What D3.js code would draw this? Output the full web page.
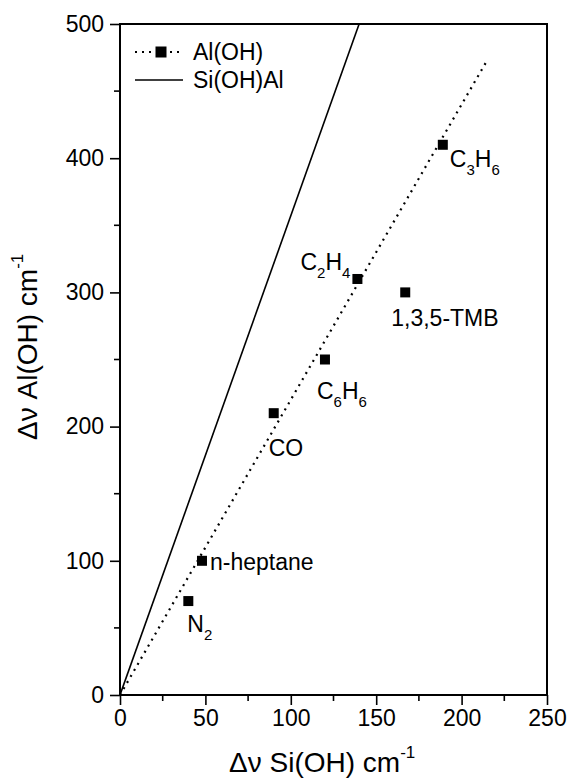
<!DOCTYPE html>
<html>
<head>
<meta charset="utf-8">
<script src="https://cdn.jsdelivr.net/npm/d3@7"></script>
<style>
  html, body { margin: 0; padding: 0; background: #fff; }
  svg { display: block; font-family: "Liberation Sans", Arial, sans-serif; }
</style>
</head>
<body>
<svg id="chart" width="568" height="778"></svg>
<script>
// Adsorbate-induced shifts: Si(OH) vs Al(OH) stretching bands
const molecules = ["N2", "n-heptane", "CO", "C6H6", "C2H4", "1,3,5-TMB", "C3H6"];
const shiftSiOH = [40, 48, 90, 120, 139, 167, 189];
const shiftAlOH = [70, 100, 210, 250, 310, 300, 410];

// Label text pieces: [text, isSubscript]
const labelParts = [
  [["N", 0], ["2", 1]],
  [["n-heptane", 0]],
  [["CO", 0]],
  [["C", 0], ["6", 1], ["H", 0], ["6", 1]],
  [["C", 0], ["2", 1], ["H", 0], ["4", 1]],
  [["1,3,5-TMB", 0]],
  [["C", 0], ["3", 1], ["H", 0], ["6", 1]]
];

// Reference lines (endpoints in data units)
const fitAlOH = [[0, 0], [215, 473]];
const lineSiOHAl = [[0, 0], [140, 500]];

const xTicks = [0, 50, 100, 150, 200, 250];
const yTicks = [0, 100, 200, 300, 400, 500];
const xMinor = [25, 75, 125, 175, 225];
const yMinor = [50, 150, 250, 350, 450];

// Label placement relative to each marker: [dx, dy, anchor]
const labelPlace = [
  [-1, 31, "start"],
  [8, 9, "start"],
  [-5, 43, "start"],
  [-8, 39, "start"],
  [-7, -9, "end"],
  [-14, 34, "start"],
  [7, 22, "start"]
];

const svg = d3.select("#chart");
const L = 120, R = 547, T = 24, B = 695;

const x = d3.scaleLinear().domain([0, 250]).range([L, R]);
const y = d3.scaleLinear().domain([0, 500]).range([B, T]);

svg.append("defs").append("clipPath").attr("id", "plotClip")
  .append("rect").attr("x", L).attr("y", T).attr("width", R - L).attr("height", B - T);

// Axes with major ticks
const xAxis = svg.append("g").attr("transform", `translate(0,${B})`)
  .call(d3.axisBottom(x).tickValues(xTicks).tickSize(10).tickSizeOuter(0).tickPadding(4).tickFormat(d3.format("d")));
const yAxis = svg.append("g").attr("transform", `translate(${L},0)`)
  .call(d3.axisLeft(y).tickValues(yTicks).tickSize(10).tickSizeOuter(0).tickPadding(6).tickFormat(d3.format("d")));

[xAxis, yAxis].forEach(g => {
  g.select(".domain").remove();
  g.selectAll(".tick line").attr("stroke", "#000").attr("stroke-width", 1.6);
  g.selectAll(".tick text").attr("fill", "#000").attr("font-size", 23)
    .attr("font-family", "'Liberation Sans', Arial, sans-serif");
});
xAxis.selectAll(".tick text").attr("dy", "0.72em").attr("y", 14);

// Minor ticks
svg.append("g").selectAll("line").data(xMinor).join("line")
  .attr("x1", d => x(d)).attr("x2", d => x(d)).attr("y1", B).attr("y2", B + 6)
  .attr("stroke", "#000").attr("stroke-width", 1.6);
svg.append("g").selectAll("line").data(yMinor).join("line")
  .attr("y1", d => y(d)).attr("y2", d => y(d)).attr("x1", L).attr("x2", L - 6)
  .attr("stroke", "#000").attr("stroke-width", 1.6);

// Plot frame
svg.append("rect").attr("x", L).attr("y", T).attr("width", R - L).attr("height", B - T)
  .attr("fill", "none").attr("stroke", "#000").attr("stroke-width", 2);

const line = d3.line().x(d => x(d[0])).y(d => y(d[1]));
const plot = svg.append("g").attr("clip-path", "url(#plotClip)");

plot.append("path").datum(lineSiOHAl).attr("d", line)
  .attr("fill", "none").attr("stroke", "#000").attr("stroke-width", 1.6);
plot.append("path").datum(fitAlOH).attr("d", line)
  .attr("fill", "none").attr("stroke", "#000").attr("stroke-width", 2.2)
  .attr("stroke-dasharray", "2,5");

// Square markers
const ms = 10;
svg.append("g").selectAll("rect").data(shiftSiOH).join("rect")
  .attr("x", (d, i) => x(d) - ms / 2).attr("y", (d, i) => y(shiftAlOH[i]) - ms / 2)
  .attr("width", ms).attr("height", ms).attr("fill", "#000");

// Molecule labels with subscripts
const labels = svg.append("g").attr("font-size", 23).attr("fill", "#000");
molecules.forEach((m, i) => {
  const [dx, dy, anchor] = labelPlace[i];
  const t = labels.append("text")
    .attr("x", x(shiftSiOH[i]) + dx).attr("y", y(shiftAlOH[i]) + dy)
    .attr("text-anchor", anchor);
  let sub = false;
  labelParts[i].forEach(([s, isSub]) => {
    const ts = t.append("tspan").text(s);
    if (isSub && !sub) { ts.attr("font-size", 15).attr("dy", 8); sub = true; }
    else if (!isSub && sub) { ts.attr("dy", -8); sub = false; }
    else if (isSub) ts.attr("font-size", 15);
  });
});

// Legend
const leg = svg.append("g");
leg.append("line").attr("x1", 135).attr("x2", 183).attr("y1", 52).attr("y2", 52)
  .attr("stroke", "#000").attr("stroke-width", 2.2).attr("stroke-dasharray", "2,5");
leg.append("rect").attr("x", 161 - 5.5).attr("y", 52 - 5.5).attr("width", 11).attr("height", 11).attr("fill", "#000");
leg.append("text").attr("x", 193).attr("y", 60).attr("font-size", 23).text("Al(OH)");
leg.append("line").attr("x1", 135).attr("x2", 183).attr("y1", 80).attr("y2", 80)
  .attr("stroke", "#000").attr("stroke-width", 1.6);
leg.append("text").attr("x", 193).attr("y", 88).attr("font-size", 23).text("Si(OH)Al");

// Axis titles
const xt = svg.append("text").attr("x", 229).attr("y", 772).attr("font-size", 28).attr("fill", "#000");
xt.append("tspan").text("Δν Si(OH) cm");
xt.append("tspan").attr("font-size", 17).attr("dy", -14).text("-1");

const yt = svg.append("text").attr("transform", "translate(37,440) rotate(-90)")
  .attr("font-size", 28).attr("fill", "#000");
yt.append("tspan").text("Δν Al(OH) cm");
yt.append("tspan").attr("font-size", 17).attr("dy", -14).text("-1");
</script>
</body>
</html>
